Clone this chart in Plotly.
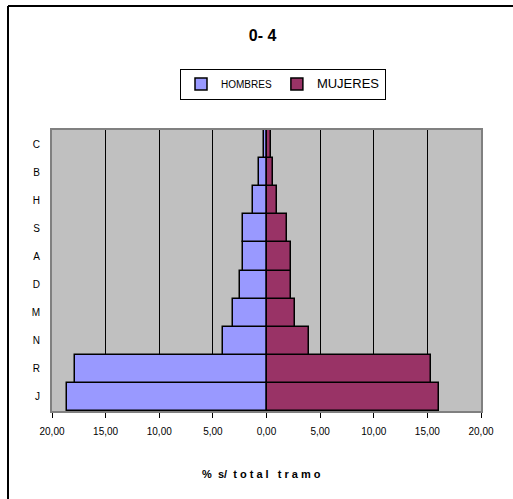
import plotly.graph_objects as go

categorias = ["J", "R", "N", "M", "D", "A", "S", "H", "B", "C"]
hombres = [18.6, 17.9, 4.05, 3.15, 2.43, 2.18, 2.18, 1.28, 0.72, 0.2]
mujeres = [16.1, 15.35, 3.95, 2.65, 2.3, 2.3, 1.93, 1.0, 0.62, 0.4]
tick_vals = [-20, -15, -10, -5, 0, 5, 10, 15, 20]
tick_text = ["20,00", "15,00", "10,00", "5,00", "0,00", "5,00", "10,00", "15,00", "20,00"]

fig = go.Figure()
fig.add_trace(go.Bar(
    y=categorias, x=[-v for v in hombres], orientation="h",
    name="<span style='font-size:10px'>HOMBRES</span>",
    marker=dict(color="#9999FF", line=dict(color="black", width=1.5)),
))
fig.add_trace(go.Bar(
    y=categorias, x=mujeres, orientation="h",
    name="<span style='font-size:13px'>MUJERES</span>",
    marker=dict(color="#993366", line=dict(color="black", width=1.5)),
))

fig.update_layout(
    width=513, height=499,
    margin=dict(l=52, r=32, t=130, b=88, autoexpand=False),
    paper_bgcolor="white",
    plot_bgcolor="#C0C0C0",
    barmode="relative",
    bargap=0,
    font=dict(family="Liberation Sans, Arial, sans-serif", size=10, color="black"),
    title=dict(text="<b>0- 4</b>", x=0.512, xanchor="center", y=1 - 35 / 499, yanchor="middle",
               font=dict(size=16, color="black")),
    showlegend=True,
    legend=dict(orientation="h", x=(283 - 52) / 429, xanchor="center",
                y=(411 - 84) / 281, yanchor="middle",
                bordercolor="black", borderwidth=1, bgcolor="white",
                font=dict(size=11), itemwidth=30, traceorder="normal"),
    xaxis=dict(range=[-20, 20], tickvals=tick_vals, ticktext=tick_text,
               showgrid=True, gridcolor="black", gridwidth=1,
               zeroline=False, showline=True, linecolor="#808080", linewidth=2,
               mirror=True, ticks="outside", tickcolor="black", ticklen=5,
               ticklabelstandoff=5,
               tickfont=dict(size=10)),
    yaxis=dict(categoryorder="array", categoryarray=categorias,
               showgrid=False, zeroline=False, showline=True, linecolor="#808080",
               linewidth=2, mirror=True, ticks="", ticklabelstandoff=8,
               tickfont=dict(size=10)),
    annotations=[dict(text="<b>%  s/  t o t a l   t r a m o</b>", xref="paper", yref="paper",
                      x=(261 - 52) / 429, y=(411 - 474) / 281, xanchor="center", yanchor="middle",
                      showarrow=False, font=dict(size=11, color="black"))],
    shapes=[dict(type="line", xref="paper", yref="paper",
                 x0=(8 - 52) / 429, x1=(530 - 52) / 429,
                 y0=(411 - 6) / 281, y1=(411 - 6) / 281,
                 line=dict(color="black", width=2)),
            dict(type="line", xref="paper", yref="paper",
                 x0=(8 - 52) / 429, x1=(8 - 52) / 429,
                 y0=(411 - 6) / 281, y1=(411 - 520) / 281,
                 line=dict(color="black", width=2))],
)

fig.write_html("out.html", config={"displayModeBar": False},
               post_script="document.body.style.margin='0';document.body.style.overflow='hidden';")
